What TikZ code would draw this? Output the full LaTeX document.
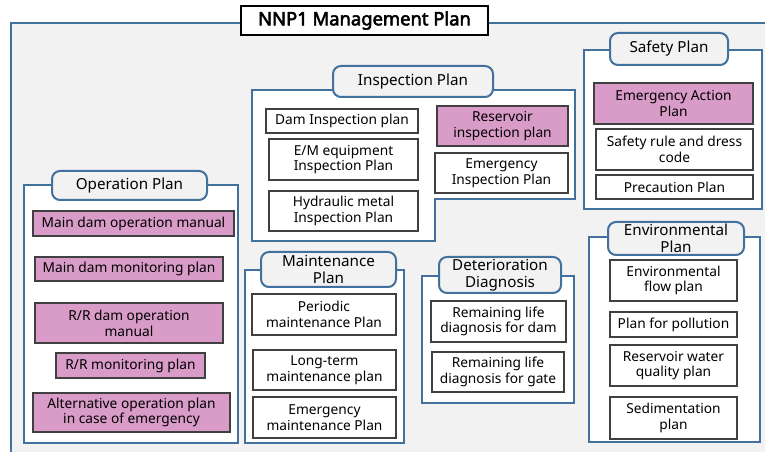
\documentclass[tikz,border=0pt]{standalone}
\usepackage{fontspec}
\setmainfont{Noto Sans}
\newfontfamily\titlefont[FakeBold=3]{Noto Sans}
\definecolor{frameblue}{RGB}{65,113,156}
\definecolor{bggray}{RGB}{242,242,242}
\definecolor{pinkfill}{RGB}{217,155,200}
\definecolor{itemline}{RGB}{64,64,64}
\tikzset{
 grp/.style={draw=frameblue, line width=1.5pt, fill=white, inner sep=0pt},
 tab/.style={draw=frameblue, line width=1.5pt, fill=bggray, rounded corners=6pt, inner sep=0pt, align=center, font=\fontsize{11.4}{12.8}\selectfont},
 item/.style={draw=itemline, line width=0.8pt, fill=white, inner sep=0pt, align=center, font=\fontsize{10.3}{11.8}\selectfont},
 pitem/.style={item, fill=pinkfill},
 titlebox/.style={draw=black, fill=white, line width=0.8pt, inner sep=0pt, font=\titlefont\fontsize{13.8}{15}\selectfont},
}
\newcommand\mybox[7]{\node[#1, minimum width={(#4-#2)*0.75pt}, minimum height={(#5-#3)*0.75pt}] (#6) at ({(#2+#4)/2},{(#3+#5)/2}) {#7};}
\begin{document}
\begin{tikzpicture}[x=0.75pt,y=-0.75pt]
\useasboundingbox (0,0) rectangle (765,452);
\fill[white] (0,0) rectangle (765,452);
\fill[bggray] (11,23) rectangle (790,480);
\draw[frameblue, line width=1.5pt] (11,480) -- (11,23) -- (790,23);
\mybox{titlebox}{241}{6}{488}{35}{title}{NNP1 Management Plan}

% Operation Plan
\mybox{grp}{24}{185}{238}{443}{opframe}{}
\mybox{tab}{52}{171}{207}{200}{optab}{Operation Plan}
\mybox{pitem}{33}{211}{234}{236}{op1}{Main dam operation manual}
\mybox{pitem}{35}{257}{223}{281}{op2}{Main dam monitoring plan}
\mybox{pitem}{35}{303}{223}{343}{op3}{R/R dam operation\\manual}
\mybox{pitem}{56}{353}{205}{378}{op4}{R/R monitoring plan}
\mybox{pitem}{33}{393}{230}{432}{op5}{Alternative operation plan\\in case of emergency}

% Inspection Plan
\draw[frameblue, line width=1.5pt, fill=white] (252,90) -- (575,90) -- (575,199) -- (435,199) -- (435,241) -- (252,241) -- cycle;
\mybox{tab}{333}{66}{493}{97}{intab}{Inspection Plan}
\mybox{item}{266}{109}{418}{133}{in1}{Dam Inspection plan}
\mybox{item}{269}{139}{418}{180}{in2}{E/M equipment\\Inspection Plan}
\mybox{item}{269}{191}{418}{231}{in3}{Hydraulic metal\\Inspection Plan}
\mybox{pitem}{437}{106}{568}{146}{in4}{Reservoir\\inspection plan}
\mybox{item}{435}{153}{568}{193}{in5}{Emergency\\Inspection Plan}

% Safety Plan
\mybox{grp}{584}{50}{762}{209}{safeframe}{}
\mybox{tab}{610}{33}{728}{65}{safetab}{Safety Plan}
\mybox{pitem}{594}{83}{753}{124}{sa1}{Emergency Action\\Plan}
\mybox{item}{596}{129}{753}{170}{sa2}{Safety rule and dress\\code}
\mybox{item}{596}{175}{753}{199}{sa3}{Precaution Plan}

% Maintenance Plan
\mybox{grp}{245}{270}{404}{443}{maframe}{}
\mybox{tab}{261}{252}{396}{287}{matab}{Maintenance\\Plan}
\mybox{item}{252}{294}{396}{335}{ma1}{Periodic\\maintenance Plan}
\mybox{item}{253}{350}{396}{390}{ma2}{Long-term\\maintenance plan}
\mybox{item}{253}{397}{396}{438}{ma3}{Emergency\\maintenance Plan}

% Deterioration Diagnosis
\mybox{grp}{422}{276}{574}{403}{deframe}{}
\mybox{tab}{439}{257}{561}{293}{detab}{Deterioration\\Diagnosis}
\mybox{item}{431}{301}{566}{342}{de1}{Remaining life\\diagnosis for dam}
\mybox{item}{432}{352}{564}{392}{de2}{Remaining life\\diagnosis for gate}

% Environmental Plan
\mybox{grp}{589}{237}{760}{442}{enframe}{}
\mybox{tab}{608}{222}{744}{255}{entab}{Environmental\\Plan}
\mybox{item}{610}{260}{737}{301}{en1}{Environmental\\flow plan}
\mybox{item}{610}{312}{737}{337}{en2}{Plan for pollution}
\mybox{item}{610}{345}{737}{386}{en3}{Reservoir water\\quality plan}
\mybox{item}{610}{397}{737}{439}{en4}{Sedimentation\\plan}
\end{tikzpicture}
\end{document}
